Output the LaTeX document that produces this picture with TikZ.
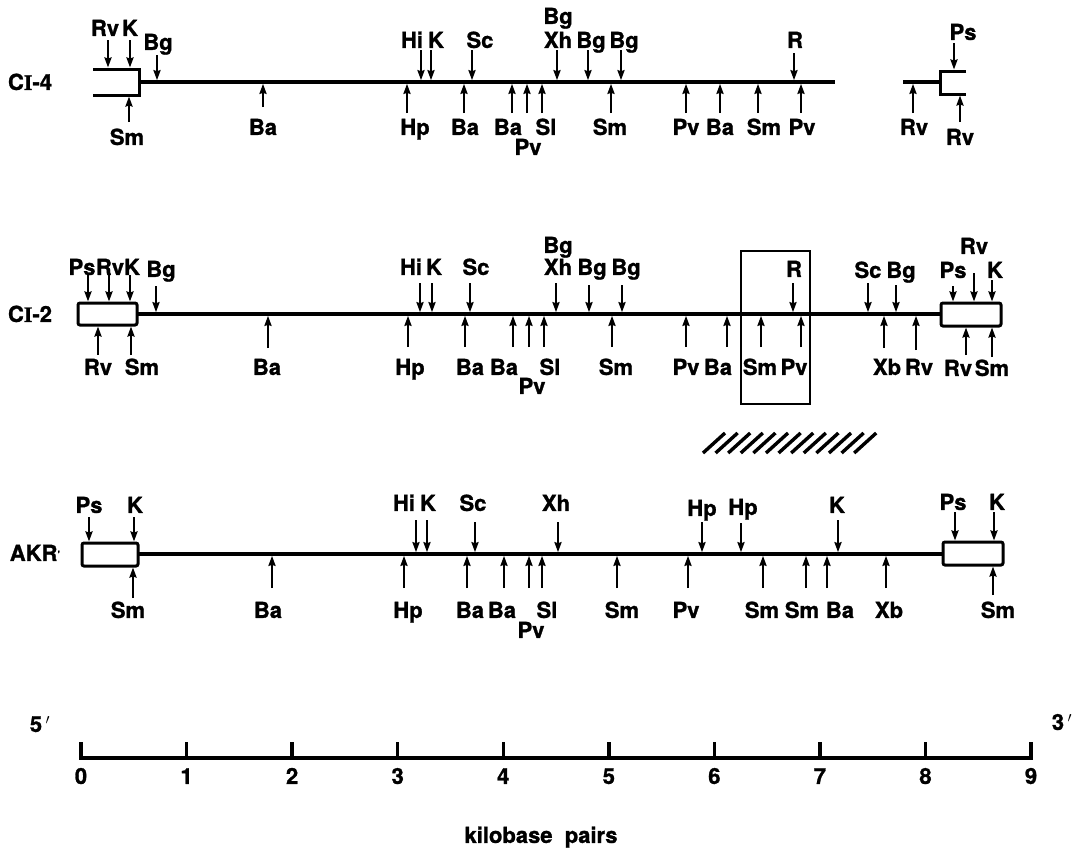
\documentclass[tikz,border=0pt]{standalone}
\usepackage{fontspec}
\setmainfont{TeX Gyre Heros}[BoldFeatures={FakeBold=1.2}]
\newfontfamily\serifI{Liberation Serif}[BoldFeatures={FakeBold=1.2}]
\usetikzlibrary{arrows.meta}
\tikzset{
  dna/.style={line width=3.6pt},
  boxline/.style={line width=3pt, line join=miter},
  gbox/.style={line width=3pt, rounded corners=2pt},
  frame/.style={line width=2.4pt},
  arr/.style={line width=2.1pt, -{Stealth[length=10pt,width=7pt,inset=1pt]}},
  lab/.style={font=\fontsize{22}{24}\selectfont\bfseries, inner sep=0pt, text height=15.8pt, text depth=0pt, anchor=center},
  tick/.style={line width=3.4pt},
  hatch/.style={line width=3.4pt}
}
\newcommand{\sarr}[3]{\draw[arr] (#1,#2) -- (#1,#3);}
\newcommand{\slab}[3]{\node[lab] (l-#1-#2) at (#1,#2) {#3};}
\begin{document}
\begin{tikzpicture}[x=1pt,y=-1pt]
\useasboundingbox (0,0) rectangle (1085,847);
% ---------------- CI-4 ----------------
\node[lab] (ci4) at (30,82) {C{\serifI\bfseries I}-4};
\draw[dna] (139,82) -- (835,82);
\draw[boxline] (93,69) -- (139,69) -- (139,95) -- (93,95);
\draw[dna] (903,82) -- (940,82);
\draw[boxline] (966,71) -- (940,71) -- (940,94) -- (966,94);
% top
\sarr{108}{40}{67.5}\slab{105}{28}{Rv}
\sarr{130}{40}{67.5}\slab{130}{28}{K}
\sarr{157}{55}{80.2}\slab{158}{42}{Bg}
\sarr{421}{50}{80.2}\slab{412}{40}{Hi}
\sarr{431}{50}{80.2}\slab{436}{40}{K}
\sarr{472}{50}{80.2}\slab{480}{40}{Sc}
\sarr{557}{50}{80.2}\slab{558}{40}{Xh}\slab{558}{16}{Bg}
\sarr{588}{50}{80.2}\slab{591}{40}{Bg}
\sarr{621}{50}{80.2}\slab{624}{40}{Bg}
\sarr{794}{53}{80.2}\slab{795}{40}{R}
\sarr{954}{43}{69.5}\slab{963}{32}{Ps}
% bottom
\sarr{129}{122}{96.5}\slab{127}{137}{Sm}
\sarr{263}{107}{83.8}\slab{263}{127}{Ba}
\sarr{407}{113}{83.8}\slab{415}{127}{Hp}
\sarr{464}{113}{83.8}\slab{465}{127}{Ba}
\sarr{512}{113}{83.8}\slab{508}{127}{Ba}
\sarr{527}{113}{83.8}\slab{528}{147}{Pv}
\sarr{542}{113}{83.8}\slab{546}{127}{Sl}
\sarr{611}{113}{83.8}\slab{610}{127}{Sm}
\sarr{686}{113}{83.8}\slab{686}{127}{Pv}
\sarr{720}{113}{83.8}\slab{720}{127}{Ba}
\sarr{758}{113}{83.8}\slab{764}{127}{Sm}
\sarr{801}{113}{83.8}\slab{802}{127}{Pv}
\sarr{913}{113}{83.8}\slab{914}{127}{Rv}
\sarr{960}{122}{95.5}\slab{960}{137}{Rv}
% ---------------- CI-2 ----------------
\node[lab] (ci2) at (30,314) {C{\serifI\bfseries I}-2};
\draw[dna] (137,314) -- (941,314);
\draw[gbox] (78,303) rectangle (137,325);
\draw[gbox] (941,303) rectangle (1001,326);
\draw[frame] (741,251) rectangle (810,404);
% top
\sarr{88}{275}{301.5}\slab{82}{267}{Ps}
\sarr{109}{275}{301.5}\slab{110}{267}{Rv}
\sarr{130}{275}{301.5}\slab{132}{267}{K}
\sarr{156}{286}{312.2}\slab{161}{269}{Bg}
\sarr{420}{283}{312.2}\slab{411}{267}{Hi}
\sarr{432}{283}{312.2}\slab{434}{267}{K}
\sarr{470}{283}{312.2}\slab{476}{267}{Sc}
\sarr{556}{283}{312.2}\slab{558}{267}{Xh}\slab{558}{245}{Bg}
\sarr{589}{285}{312.2}\slab{592}{267}{Bg}
\sarr{622}{285}{312.2}\slab{626}{267}{Bg}
\sarr{793}{283}{312.2}\slab{794}{269}{R}
\sarr{868}{283}{312.2}\slab{868}{270}{Sc}
\sarr{896}{285}{312.2}\slab{901}{270}{Bg}
\sarr{953}{286}{301.5}\slab{953}{270}{Ps}
\sarr{974}{273}{301.5}\slab{974}{246}{Rv}
\sarr{992}{280}{301.5}\slab{995}{270}{K}
% bottom
\sarr{98}{355}{326.5}\slab{98}{367}{Rv}
\sarr{131}{355}{326.5}\slab{142}{367}{Sm}
\sarr{268}{348}{315.8}\slab{267}{367}{Ba}
\sarr{408}{347}{315.8}\slab{410}{367}{Hp}
\sarr{465}{347}{315.8}\slab{470}{367}{Ba}
\sarr{513}{347}{315.8}\slab{504}{367}{Ba}
\sarr{529}{347}{315.8}\slab{532}{386}{Pv}
\sarr{544}{347}{315.8}\slab{550}{367}{Sl}
\sarr{612}{347}{315.8}\slab{616}{367}{Sm}
\sarr{686}{347}{315.8}\slab{686}{367}{Pv}
\sarr{727}{347}{315.8}\slab{718}{367}{Ba}
\sarr{761}{347}{315.8}\slab{760}{367}{Sm}
\sarr{801}{347}{315.8}\slab{794}{367}{Pv}
\sarr{884}{348}{315.8}\slab{887}{367}{Xb}
\sarr{916}{350}{315.8}\slab{919}{367}{Rv}
\sarr{966}{355}{327.5}\slab{958}{368}{Rv}
\sarr{992}{357}{327.5}\slab{992}{368}{Sm}
% hatched bar
\foreach \i in {0,...,12} {\draw[hatch] (703+\i*12.6,453) -- ++(22,-20);}
% ---------------- AKR ----------------
\node[lab] (akr) at (35,553) {AKR\raisebox{3pt}{\fontsize{10}{10}\selectfont\textquoteright}};
\draw[dna] (138,554) -- (943,554);
\draw[gbox] (82,543) rectangle (138,566);
\draw[gbox] (943,542) rectangle (1003,565);
% top
\sarr{89}{517}{541.5}\slab{89}{505}{Ps}
\sarr{134}{517}{541.5}\slab{135}{505}{K}
\sarr{416}{520}{552.2}\slab{404}{503}{Hi}
\sarr{427}{520}{552.2}\slab{428}{503}{K}
\sarr{475}{522}{552.2}\slab{473}{503}{Sc}
\sarr{558}{522}{552.2}\slab{556}{503}{Xh}
\sarr{702}{522}{552.2}\slab{702}{508}{Hp}
\sarr{741}{523}{552.2}\slab{743}{507}{Hp}
\sarr{838}{520}{552.2}\slab{837}{505}{K}
\sarr{955}{512}{540.5}\slab{953}{502}{Ps}
\sarr{994}{512}{540.5}\slab{997}{502}{K}
% bottom
\sarr{133}{598}{567.5}\slab{128}{610}{Sm}
\sarr{272}{588}{555.8}\slab{268}{610}{Ba}
\sarr{404}{588}{555.8}\slab{408}{610}{Hp}
\sarr{467}{588}{555.8}\slab{470}{610}{Ba}
\sarr{504}{588}{555.8}\slab{502}{610}{Ba}
\sarr{529}{588}{555.8}\slab{531}{630}{Pv}
\sarr{542}{588}{555.8}\slab{547}{610}{Sl}
\sarr{617}{588}{555.8}\slab{622}{610}{Sm}
\sarr{688}{588}{555.8}\slab{686}{610}{Pv}
\sarr{763}{588}{555.8}\slab{762}{610}{Sm}
\sarr{806}{588}{555.8}\slab{802}{610}{Sm}
\sarr{827}{588}{555.8}\slab{840}{610}{Ba}
\sarr{886}{588}{555.8}\slab{889}{610}{Xb}
\sarr{993}{595}{566.5}\slab{998}{610}{Sm}
% ---------------- scale ----------------
\draw[tick, line join=miter] (81,742) -- (81,758) -- (1031,758) -- (1031,742);
\foreach \k in {1,...,8} {\draw[tick] (81+\k*105.56,758) -- (81+\k*105.56,742);}
\foreach \k in {0,...,9} {\node[lab] (n\k) at (81+\k*105.56,776) {\k};}
\node[lab] (five) at (40,724) {5\,$'$};
\node[lab] (three) at (1062,722) {3\,$'$};
\node[lab] (kb) at (541,835) {kilobase\ \ pairs};
\end{tikzpicture}
\end{document}
